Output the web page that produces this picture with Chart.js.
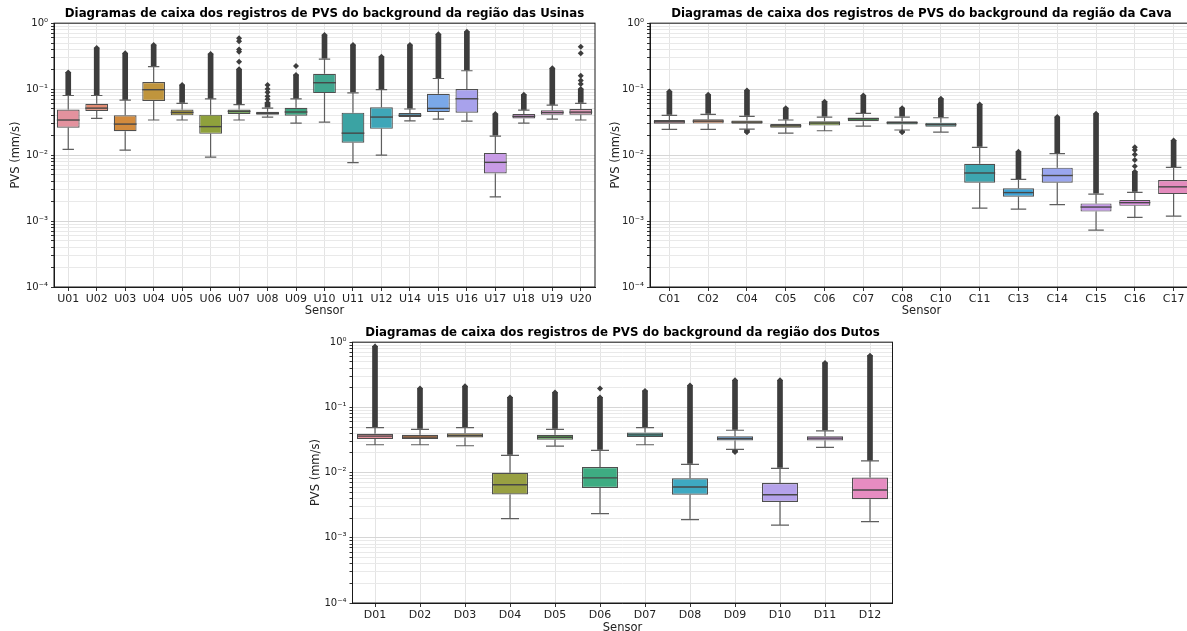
<!DOCTYPE html>
<html>
<head>
<meta charset="utf-8">
<script src="https://cdn.jsdelivr.net/npm/chart.js@4.4.0/dist/chart.umd.min.js"></script>
<style>
  html, body { margin: 0; padding: 0; background: #fff; overflow: hidden; width: 1187px; height: 631px; position: relative; }
  .panel { position: absolute; }
</style>
</head>
<body>
<div class="panel" style="left:0;top:0;width:600px;height:318px"><canvas id="c-usinas"></canvas></div>
<div class="panel" style="left:600px;top:0;width:600px;height:318px"><canvas id="c-cava"></canvas></div>
<div class="panel" style="left:300px;top:319px;width:600px;height:316px"><canvas id="c-dutos"></canvas></div>
<script>
// --- Usinas
const usinasLabels = ['U01','U02','U03','U04','U05','U06','U07','U08','U09','U10','U11','U12','U14','U15','U16','U17','U18','U19','U20']
const usinasLo  = [0.0122,0.036,0.0119,0.034,0.034,0.0093,0.034,0.0377,0.0305,0.0316,0.0077,0.0100,0.033,0.035,0.0328,0.00233,0.0305,0.035,0.034]
const usinasQ1  = [0.026,0.0465,0.023,0.066,0.040,0.021,0.042,0.0409,0.0395,0.087,0.0154,0.025,0.0377,0.0448,0.044,0.00527,0.036,0.041,0.041]
const usinasMed = [0.034,0.0515,0.0295,0.098,0.0443,0.027,0.046,0.043,0.045,0.125,0.0215,0.0377,0.040,0.051,0.0714,0.00776,0.0386,0.0443,0.0448]
const usinasQ3  = [0.049,0.060,0.040,0.128,0.049,0.041,0.049,0.0454,0.052,0.171,0.044,0.053,0.0433,0.085,0.100,0.0108,0.042,0.048,0.0498]
const usinasHi  = [0.080,0.080,0.068,0.22,0.061,0.071,0.058,0.0515,0.071,0.285,0.088,0.098,0.050,0.145,0.19,0.0194,0.048,0.057,0.061]
const usinasOutTop = [0.179,0.42,0.35,0.466,0.115,0.34,0.2,0.062,0.164,0.66,0.466,0.31,0.466,0.68,0.74,0.042,0.082,0.207,0.1]
const usinasOutLow = [null,null,null,null,null,null,null,null,null,null,null,null,null,null,null,null,null,null,null]
const usinasPts = [['U07',0.26],['U07',0.37],['U07',0.40],['U07',0.53],['U07',0.59],['U08',0.07],['U08',0.078],['U08',0.09],['U08',0.1],['U08',0.115],['U09',0.224],['U20',0.12],['U20',0.135],['U20',0.16],['U20',0.35],['U20',0.44]]
const usinasColors = ['#e3929e','#e38c73','#d38b3d','#c0953d','#a99a3c','#8fa13c','#65a844','#3fa266','#3da581','#41a68f','#3ba3a3','#3fa6b8','#3ea3d1','#7aa8e8','#a8a2ec','#c89be6','#dc8fe2','#e48ccb','#e690b6']

// --- Cava
const cavaLabels = ['C01','C02','C04','C05','C06','C07','C08','C10','C11','C13','C14','C15','C16','C17']
const cavaLo  = [0.0245,0.0245,0.0248,0.0215,0.0234,0.0275,0.024,0.0223,0.00157,0.00152,0.00177,0.00073,0.00114,0.00119]
const cavaQ1  = [0.0298,0.030,0.0298,0.026,0.028,0.0327,0.0292,0.027,0.0038,0.00233,0.0038,0.00139,0.0017,0.00256]
const cavaMed = [0.032,0.0327,0.0316,0.0278,0.0306,0.0356,0.031,0.029,0.00535,0.0027,0.0049,0.00163,0.0019,0.0033]
const cavaQ3  = [0.034,0.035,0.0335,0.0295,0.0327,0.0372,0.0327,0.031,0.0074,0.00313,0.00645,0.00185,0.00209,0.0042]
const cavaHi  = [0.040,0.0414,0.0386,0.034,0.0377,0.0428,0.0377,0.0368,0.0131,0.00427,0.0105,0.00256,0.00272,0.0065]
const cavaOutTop = [0.092,0.082,0.095,0.0515,0.0645,0.080,0.0515,0.0714,0.0586,0.0112,0.0377,0.0423,0.0056,0.0167]
const cavaOutLow = [null,null,0.0222,null,null,null,0.0222,null,null,null,null,null,null,null]
const cavaPts = [['C16',0.0068],['C16',0.0084],['C16',0.0102],['C16',0.0119],['C16',0.0131]]
const cavaColors = ['#e3929e','#d98a5e','#c49a3c','#a2a03a','#83a63c','#3e9e4c','#3a9e76','#3a9c98','#3da6b0','#3ea4d8','#9aa6ef','#c699e9','#dc8de0','#e48bbd']

// --- Dutos
const dutosLabels = ['D01','D02','D03','D04','D05','D06','D07','D08','D09','D10','D11','D12']
const dutosLo  = [0.0267,0.0267,0.0258,0.00197,0.0254,0.00234,0.0267,0.0019,0.0227,0.00156,0.0243,0.00177]
const dutosQ1  = [0.0326,0.0326,0.0345,0.0046,0.032,0.0058,0.035,0.00457,0.031,0.00353,0.031,0.0039]
const dutosMed = [0.0362,0.035,0.0371,0.0065,0.0349,0.0083,0.0379,0.0060,0.0334,0.00457,0.0338,0.0054]
const dutosQ3  = [0.0393,0.0379,0.040,0.0099,0.0379,0.0122,0.0411,0.0082,0.0362,0.0069,0.0362,0.0084]
const dutosHi  = [0.049,0.046,0.049,0.0184,0.046,0.0219,0.049,0.0134,0.0446,0.0116,0.0436,0.0151]
const dutosOutTop = [0.86,0.195,0.211,0.142,0.169,0.142,0.179,0.216,0.26,0.26,0.48,0.62]
const dutosOutLow = [null,null,null,null,null,null,null,null,0.0206,null,null,null]
const dutosPts = [['D06',0.195]]
const dutosColors = ['#e3909b','#e38a4d','#c39a3a','#98a042','#55b04b','#3eac82','#3aa8a0','#3ea9c2','#5a98d6','#b5a2ea','#cf8be3','#e68cc1']

// --- y axis ticks
const decadeValues = [0.0001, 0.001, 0.01, 0.1, 1]
const decadeLabels = ['10⁻⁴', '10⁻³', '10⁻²', '10⁻¹', '10⁰']
const minorMult = [2, 3, 4, 5, 6, 7, 8, 9]

const FONT = 'DejaVu Sans'
const OUT_COLOR = '#3d3d3d'

const yTicks = []
decadeValues.forEach((d, k) => {
  yTicks.push(d)
  if (k < decadeValues.length - 1) minorMult.forEach(m => yTicks.push(m * d))
})

const boxPlugin = {
  id: 'boxWhiskers',
  beforeDatasetsDraw(chart, args, o) {
    const ctx = chart.ctx
    const y = chart.scales.y
    const meta = chart.getDatasetMeta(0)
    ctx.save()
    ctx.strokeStyle = '#5e5e5e'
    ctx.lineWidth = 1.2
    meta.data.forEach((bar, i) => {
      const x = bar.x, hw = bar.width / 4
      const yq1 = y.getPixelForValue(o.q1[i]), yq3 = y.getPixelForValue(o.q3[i])
      const ylo = y.getPixelForValue(o.lo[i]), yhi = y.getPixelForValue(o.hi[i])
      ctx.beginPath()
      ctx.moveTo(x, yq1); ctx.lineTo(x, ylo)
      ctx.moveTo(x, yq3); ctx.lineTo(x, yhi)
      ctx.moveTo(x - hw, ylo); ctx.lineTo(x + hw, ylo)
      ctx.moveTo(x - hw, yhi); ctx.lineTo(x + hw, yhi)
      ctx.stroke()
    })
    ctx.restore()
  },
  afterDatasetsDraw(chart, args, o) {
    const ctx = chart.ctx
    const y = chart.scales.y
    const meta = chart.getDatasetMeta(0)
    ctx.save()
    ctx.strokeStyle = '#474747'
    ctx.lineWidth = 1.4
    meta.data.forEach((bar, i) => {
      const ym = y.getPixelForValue(o.med[i])
      ctx.beginPath()
      ctx.moveTo(bar.x - bar.width / 2, ym)
      ctx.lineTo(bar.x + bar.width / 2, ym)
      ctx.stroke()
    })
    const a = chart.chartArea
    ctx.strokeStyle = '#1a1a1a'
    ctx.lineWidth = 1
    ctx.strokeRect(a.left, a.top, a.right - a.left, a.bottom - a.top)
    ctx.restore()
  }
}

function makeChart(id, title, labels, lo, q1, med, q3, hi, outTop, outLow, pts, colors, yW, xH, padR, xTitlePad) {
  const topPts = labels.map((l, i) => ({ x: l, y: outTop[i] }))
  const lowPts = labels.map((l, i) => outLow[i] ? { x: l, y: outLow[i] } : null).filter(Boolean)
  const extra = pts.map(p => ({ x: p[0], y: p[1] }))
  return new Chart(document.getElementById(id), {
    type: 'bar',
    data: {
      labels,
      datasets: [
        {
          data: labels.map((l, i) => [q1[i], q3[i]]),
          backgroundColor: colors,
          borderColor: '#4f4f4f',
          borderWidth: 1.2,
          borderSkipped: false,
          barPercentage: 0.8,
          categoryPercentage: 1,
          grouped: false,
          order: 1
        },
        {
          data: labels.map((l, i) => [hi[i] * 1.03, outTop[i]]),
          backgroundColor: OUT_COLOR,
          barThickness: 5,
          grouped: false,
          order: 2
        },
        {
          data: labels.map((l, i) => outLow[i] ? [outLow[i], lo[i] * 0.97] : null),
          backgroundColor: OUT_COLOR,
          barThickness: 5,
          grouped: false,
          order: 2
        },
        {
          type: 'scatter',
          data: topPts.concat(lowPts, extra),
          backgroundColor: OUT_COLOR,
          borderColor: OUT_COLOR,
          pointStyle: 'rectRot',
          pointRadius: 3,
          borderWidth: 0,
          order: 0
        }
      ]
    },
    options: {
      responsive: true,
      maintainAspectRatio: false,
      animation: false,
      layout: { padding: { right: padR, left: 0, bottom: 0, top: 0 } },
      plugins: {
        legend: { display: false },
        tooltip: { enabled: false },
        title: {
          display: true, text: title, color: '#000', fullSize: false,
          font: { family: FONT, size: 11.8, weight: 'bold' },
          padding: { top: 7, bottom: 2 }
        },
        boxWhiskers: { lo, q1, med, q3, hi }
      },
      scales: {
        x: {
          type: 'category',
          offset: true,
          grid: { offset: false, color: '#e4e4e4', tickLength: 4, tickColor: '#333' },
          border: { color: '#1a1a1a' },
          ticks: { font: { family: FONT, size: 11 }, color: '#222', padding: 1.5, maxRotation: 0, autoSkip: false },
          title: { display: true, text: 'Sensor', color: '#222', font: { family: FONT, size: 11.5 }, padding: { top: xTitlePad, bottom: 0 } },
          afterFit: s => { s.height = xH }
        },
        y: {
          type: 'logarithmic',
          min: 0.0001,
          max: 1,
          afterBuildTicks: s => { s.ticks = yTicks.map(v => ({ value: v })) },
          ticks: {
            autoSkip: false,
            font: { family: FONT, size: 10 },
            color: '#222',
            padding: 3,
            callback: v => {
              const k = decadeValues.indexOf(v)
              return k >= 0 ? decadeLabels[k] : ''
            }
          },
          grid: {
            color: c => decadeValues.indexOf(c.tick && c.tick.value) >= 0 ? '#d6d6d6' : '#e9e9e9',
            tickLength: 3,
            tickColor: '#333'
          },
          border: { color: '#1a1a1a' },
          title: { display: true, text: 'PVS (mm/s)', color: '#222', font: { family: FONT, size: 11.5 }, padding: { top: 9, bottom: 2 } },
          afterFit: s => { s.width = yW }
        }
      }
    },
    plugins: [boxPlugin]
  })
}

makeChart('c-usinas', 'Diagramas de caixa dos registros de PVS do background da região das Usinas',
  usinasLabels, usinasLo, usinasQ1, usinasMed, usinasQ3, usinasHi, usinasOutTop, usinasOutLow, usinasPts, usinasColors, 54, 31, 5, 0)
makeChart('c-cava', 'Diagramas de caixa dos registros de PVS do background da região da Cava',
  cavaLabels, cavaLo, cavaQ1, cavaMed, cavaQ3, cavaHi, cavaOutTop, cavaOutLow, cavaPts, cavaColors, 50, 31, 7, 0)
makeChart('c-dutos', 'Diagramas de caixa dos registros de PVS do background da região dos Dutos',
  dutosLabels, dutosLo, dutosQ1, dutosMed, dutosQ3, dutosHi, dutosOutTop, dutosOutLow, dutosPts, dutosColors, 52.5, 32, 7.5, 3)
</script>
</body>
</html>
